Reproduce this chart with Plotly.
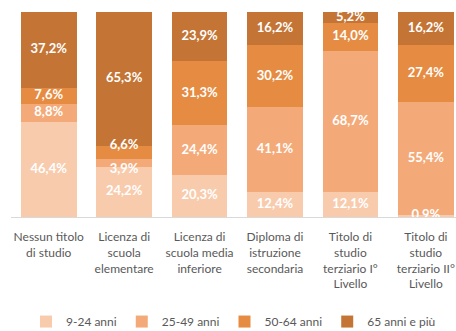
import plotly.graph_objects as go

categories = [
    "Nessun titolo<br>di studio",
    "Licenza di<br>scuola<br>elementare",
    "Licenza di<br>scuola media<br>inferiore",
    "Diploma di<br>istruzione<br>secondaria",
    "Titolo di<br>studio<br>terziario I°<br>Livello",
    "Titolo di<br>studio<br>terziario II°<br>Livello",
]
series_names = ["9-24 anni", "25-49 anni", "50-64 anni", "65 anni e più"]
v_9_24 = [46.4, 24.2, 20.3, 12.4, 12.1, 0.9]
v_25_49 = [8.8, 3.9, 24.4, 41.1, 68.7, 55.4]
v_50_64 = [7.6, 6.6, 31.3, 30.2, 14.0, 27.4]
v_65 = [37.2, 65.3, 23.9, 16.2, 5.2, 16.2]
colors = ["#F8CBAD", "#F4AA78", "#E68C42", "#C47535"]

x = list(range(len(categories)))
all_series = [v_9_24, v_25_49, v_50_64, v_65]
fig = go.Figure()
for name, vals, col in zip(series_names, all_series, colors):
    fig.add_trace(go.Bar(
        x=x, y=vals, name=name, marker=dict(color=col, line=dict(width=0)),
        width=0.74, hoverinfo="y",
    ))

# data labels at segment midpoints; small crowded segments nudged like the original
base = [0.0] * len(x)
lx, ly, lt, lp = [], [], [], []
for s, vals in enumerate(all_series):
    for i, v in enumerate(vals):
        lx.append(x[i])
        ly.append(base[i] + v / 2)
        lt.append(f"{v:.1f}%".replace(".", ","))
        pos = "middle center"
        if i == 1 and s == 1:
            pos = "bottom center"
        if i == 1 and s == 2:
            pos = "top center"
        lp.append(pos)
        base[i] += v
fig.add_trace(go.Scatter(
    x=lx, y=ly, text=lt, mode="text", textposition=lp, showlegend=False, cliponaxis=False,
    textfont=dict(color="white", size=13, family="Lato", weight="bold"),
    hoverinfo="skip",
))

fig.update_layout(
    barmode="stack",
    width=456, height=331,
    margin=dict(l=11, r=0, t=12, b=114, autoexpand=False),
    plot_bgcolor="white", paper_bgcolor="white",
    font=dict(family="Lato", color="#595959"),
    legend=dict(orientation="h", x=0.5, xanchor="center", y=-0.51, yanchor="middle",
                font=dict(size=12, color="#595959"), traceorder="normal",
                itemwidth=30, tracegroupgap=0),
    xaxis=dict(tickmode="array", tickvals=x, ticktext=categories, range=[-0.5, 5.4],
               showline=True, linecolor="#D9D9D9", linewidth=1, ticks="",
               ticklabelstandoff=9, automargin=False,
               tickfont=dict(size=12, color="#595959"), showgrid=False, zeroline=False),
    yaxis=dict(range=[0, 100], visible=False, showgrid=False, automargin=False),
)
fig.write_html("out.html", config={"displayModeBar": False},
               post_script="document.body.style.margin='0';")
